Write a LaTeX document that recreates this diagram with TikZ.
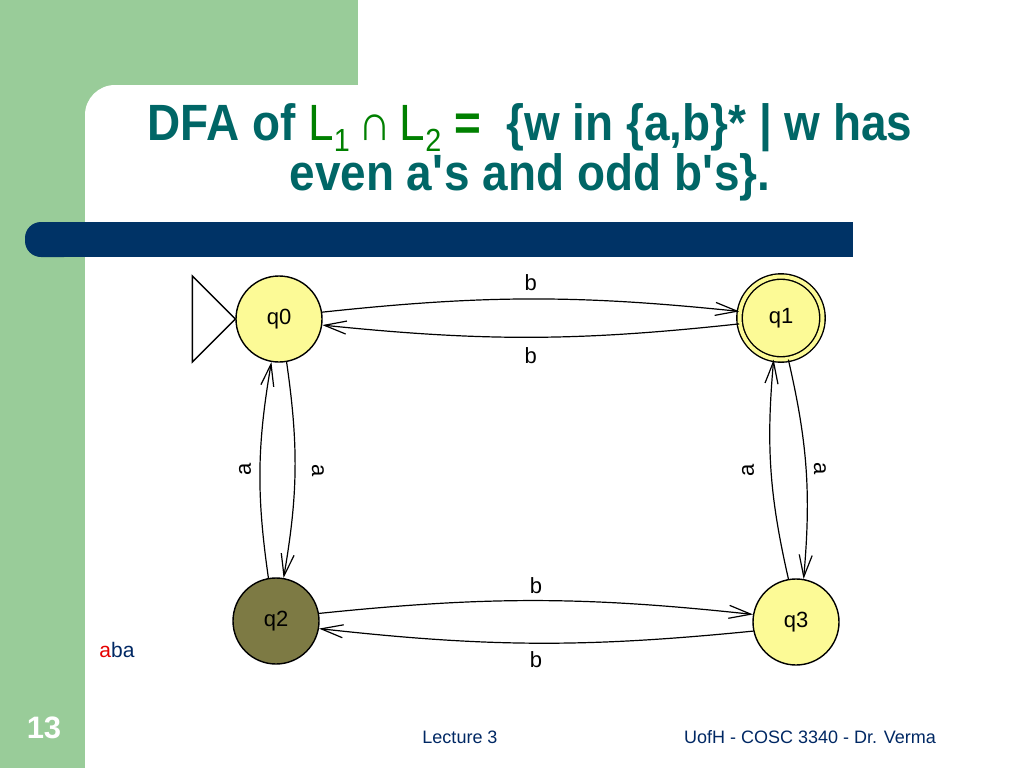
\documentclass[tikz,border=0pt]{standalone}
\usepackage{fontspec}
\setmainfont{Liberation Sans}
\newfontfamily\titlefont{Liberation Sans}[FakeStretch=0.9]
\usetikzlibrary{arrows.meta,positioning}
\definecolor{greenbg}{RGB}{153,204,153}
\definecolor{navybar}{RGB}{0,51,102}
\definecolor{teal}{RGB}{0,102,102}
\definecolor{titlegreen}{RGB}{0,128,0}
\definecolor{stateyellow}{RGB}{252,250,150}
\definecolor{stateolive}{RGB}{125,122,68}
\definecolor{footnavy}{RGB}{0,40,100}
\definecolor{redletter}{RGB}{230,0,0}
\tikzset{
  state/.style={circle, draw=black, line width=1.4pt, fill=stateyellow, minimum size=86pt, inner sep=0pt, font=\fontsize{22}{24}\selectfont},
  trans/.style={line width=1.2pt, -{Straight Barb[length=22pt,width=13pt,line width=1.2pt]}},
  lbl/.style={font=\fontsize{22}{24}\selectfont, inner sep=2pt},
  foot/.style={font=\fontsize{18}{20}\selectfont, text=footnavy}
}
\newcommand{\subidx}[1]{\raisebox{-0.22em}[0pt][0pt]{\fontsize{32}{32}\selectfont #1}}
\begin{document}
\begin{tikzpicture}[x=1pt,y=-1pt]
\useasboundingbox (0,0) rectangle (1024,768);
\begin{scope}
\clip (0,0) rectangle (1024,768);
\fill[greenbg] (0,0) rectangle (358,113);
\fill[greenbg] (0,0) rectangle (113,768);
\fill[white, rounded corners=30pt] (85,85) rectangle (1100,900);
\fill[greenbg] (0,113) rectangle (85,768);
\end{scope}
% navy bar
\fill[navybar, rounded corners=16pt] (25,222) rectangle (80,257);
\fill[navybar] (50,222) rectangle (853,257);
% title
\node[font=\titlefont\fontsize{51}{47}\selectfont\bfseries, text=teal, anchor=base, align=center] (title) at (530,190)
 {DFA of {\mdseries\color{titlegreen}L\subidx{1}\,∩\,L\subidx{2}} {\color{titlegreen}=}\ \ \{w in \{a,b\}* | w has\\
 even a\textquotesingle s and odd b\textquotesingle s\}.};
% states
\node[state] (q0) at (279,319) {q0};
\node[state, double=stateyellow, double distance=4pt, minimum size=83pt] (q1) at (781,318) {q1};
\node[state, fill=stateolive] (q2) at (276,621) {q2};
\node[state] (q3) at (796,622) {q3};
% initial arrow
\draw[line width=1.4pt, fill=white, line join=miter] (q0.west) -- ++(-43,-43) -- ++(0,86) -- cycle;
% transitions
\draw[trans] (q0.9) to[bend left=6] node[lbl, midway, anchor=south, yshift=6pt] (lb1) {b} (q1.171);
\draw[trans] (q1.-172) to[bend left=6] node[lbl, midway, anchor=north, yshift=-8pt] (lb2) {b} (q0.-8);
\draw[trans] (q2.100) to[bend left=9] node[lbl, midway, rotate=90, yshift=15pt] (la1) {a} (q0.-100);
\draw[trans] (q0.-80) to[bend left=9] node[lbl, midway, rotate=-90, yshift=23pt] (la2) {a} (q2.80);
\draw[trans] (q3.100) to[bend left=9] node[lbl, midway, rotate=90, yshift=23pt] (la3) {a} (q1.-100);
\draw[trans] (q1.-80) to[bend left=9] node[lbl, midway, rotate=-90, yshift=14pt] (la4) {a} (q3.80);
\draw[trans] (q2.10) to[bend left=6] node[lbl, midway, anchor=south, yshift=4pt] (lb3) {b} (q3.170);
\draw[trans] (q3.-168) to[bend left=6] node[lbl, midway, anchor=north, yshift=-6pt] (lb4) {b} (q2.-10);
% example word
\node[font=\fontsize{21}{24}\selectfont, anchor=base] (word) at (117,657) {\textcolor{redletter}{a}\textcolor{footnavy}{ba}};
% footer
\node[font=\fontsize{31}{32}\selectfont\bfseries, text=white] (num) at (44,728) {13};
\node[foot] (lec) at (460,737) {Lecture 3};
\node[foot] (auth) at (810,737) {UofH - COSC 3340 - Dr. Verma};
\end{tikzpicture}
\end{document}
